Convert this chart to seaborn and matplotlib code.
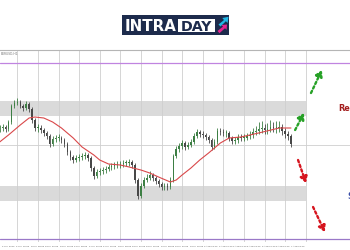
import matplotlib
matplotlib.use("Agg")
import matplotlib.pyplot as plt
import matplotlib.transforms as mtransforms
from matplotlib.patches import Rectangle, Polygon
import numpy as np
import pandas as pd
import seaborn as sns

# ---------------- data ----------------
closes = [1.1822, 1.1823, 1.1821, 1.1828, 1.1844, 1.1847, 1.1848, 1.1844, 1.1842, 1.1846,
          1.1841, 1.1830, 1.1822, 1.1822, 1.1820, 1.1817, 1.1814, 1.1806, 1.1811, 1.1812,
          1.1812, 1.1810, 1.1806, 1.1798, 1.1793, 1.1790, 1.1792, 1.1793, 1.1794, 1.1795,
          1.1792, 1.1782, 1.1774, 1.1778, 1.1779, 1.1780, 1.1781, 1.1783, 1.1784, 1.1785,
          1.1785, 1.1786, 1.1787, 1.1787, 1.1788, 1.1785, 1.1770, 1.1754, 1.1764, 1.1770,
          1.1772, 1.1775, 1.1772, 1.1769, 1.1766, 1.1763, 1.1764, 1.1763, 1.1770, 1.1794,
          1.1801, 1.1804, 1.1807, 1.1803, 1.1805, 1.1808, 1.1814, 1.1818, 1.1816, 1.1815,
          1.1813, 1.1810, 1.1803, 1.1808, 1.1819, 1.1818, 1.1817, 1.1817, 1.1812, 1.1809,
          1.1810, 1.1813, 1.1812, 1.1812, 1.1814, 1.1815, 1.1818, 1.1819, 1.1821, 1.1822,
          1.1820, 1.1821, 1.1823, 1.1822, 1.1822, 1.1823, 1.1819, 1.1816, 1.1814, 1.1806]
highs = [1.1825, 1.1826, 1.1825, 1.1830, 1.1846, 1.1850, 1.1852, 1.1850, 1.1846, 1.1849,
         1.1848, 1.1843, 1.1832, 1.1826, 1.1825, 1.1822, 1.1819, 1.1816, 1.1814, 1.1815,
         1.1816, 1.1814, 1.1812, 1.1808, 1.1800, 1.1795, 1.1795, 1.1796, 1.1797, 1.1798,
         1.1797, 1.1794, 1.1784, 1.1781, 1.1782, 1.1783, 1.1784, 1.1786, 1.1787, 1.1788,
         1.1789, 1.1789, 1.1790, 1.1790, 1.1791, 1.1790, 1.1787, 1.1772, 1.1767, 1.1773,
         1.1776, 1.1779, 1.1777, 1.1774, 1.1771, 1.1768, 1.1767, 1.1767, 1.1773, 1.1796,
         1.1804, 1.1807, 1.1810, 1.1809, 1.1808, 1.1811, 1.1817, 1.1821, 1.1820, 1.1819,
         1.1817, 1.1815, 1.1812, 1.1811, 1.1822, 1.1822, 1.1821, 1.1820, 1.1819, 1.1814,
         1.1813, 1.1816, 1.1816, 1.1816, 1.1817, 1.1819, 1.1822, 1.1824, 1.1828, 1.1829,
         1.1826, 1.1827, 1.1830, 1.1828, 1.1829, 1.1829, 1.1826, 1.1822, 1.1819, 1.1816]
lows = [1.1818, 1.1819, 1.1818, 1.1819, 1.1826, 1.1842, 1.1845, 1.1842, 1.1839, 1.1840,
        1.1838, 1.1827, 1.1819, 1.1818, 1.1817, 1.1814, 1.1811, 1.1803, 1.1804, 1.1808,
        1.1809, 1.1807, 1.1803, 1.1795, 1.1790, 1.1787, 1.1788, 1.1789, 1.1790, 1.1791,
        1.1789, 1.1779, 1.1771, 1.1772, 1.1775, 1.1776, 1.1777, 1.1779, 1.1780, 1.1781,
        1.1782, 1.1782, 1.1783, 1.1784, 1.1784, 1.1782, 1.1767, 1.1751, 1.1752, 1.1762,
        1.1768, 1.1770, 1.1769, 1.1766, 1.1763, 1.1760, 1.1760, 1.1760, 1.1761, 1.1768,
        1.1792, 1.1798, 1.1801, 1.1800, 1.1801, 1.1803, 1.1806, 1.1812, 1.1813, 1.1812,
        1.1810, 1.1807, 1.1800, 1.1801, 1.1806, 1.1815, 1.1814, 1.1813, 1.1809, 1.1806,
        1.1806, 1.1807, 1.1809, 1.1809, 1.1810, 1.1811, 1.1812, 1.1815, 1.1816, 1.1817,
        1.1816, 1.1816, 1.1818, 1.1818, 1.1817, 1.1818, 1.1815, 1.1812, 1.1810, 1.1803]
first_open = 1.1820

ma_bars = [0, 3, 7, 10, 12, 15, 18, 21, 25, 28, 32, 34, 37, 41, 44, 48, 51, 54, 58, 60,
           62, 65, 68, 71, 75, 78, 82, 88, 95, 99]
ma_vals = [1.1808, 1.1815, 1.1825, 1.1832, 1.1833, 1.1832, 1.1828, 1.1822, 1.1812, 1.1803,
           1.1795, 1.1790, 1.1786, 1.1785, 1.1783, 1.1780, 1.1777, 1.1773, 1.1768, 1.1770,
           1.1775, 1.1782, 1.1790, 1.1797, 1.1807, 1.1812, 1.1813, 1.1817, 1.1822, 1.1822]

resistance_zone = (1.1834, 1.1849)
support_zone = (1.1749, 1.1764)
upper_line = 1.1887
lower_line = 1.1711
grid_price = 1.1805

# arrows: (bar start, price start, bar end, price end)
green_arrows = [(100.4, 1.1820, 103.4, 1.1837), (105.8, 1.1857, 109.5, 1.1880)]
red_arrows = [(101.4, 1.1790, 104.1, 1.1767), (106.5, 1.1743, 110.5, 1.1718)]

time_labels = ["21 Jul 2020", "21 Jul 16:00", "22 Jul 08:00", "23 Jul 00:00", "23 Jul 16:00",
               "24 Jul 08:00", "27 Jul 00:00", "27 Jul 16:00", "28 Jul 08:00", "29 Jul 00:00",
               "29 Jul 16:00", "30 Jul 08:00", "31 Jul 00:00", "31 Jul 16:00", "3 Aug 08:00",
               "4 Aug 00:00", "4 Aug 16:00", "5 Aug 08:00", "6 Aug 00:00", "6 Aug 16:00",
               "7 Aug 08:00"]

# ---------------- build table ----------------
opens = [first_open] + closes[:-1]
df = pd.DataFrame({"bar": np.arange(len(closes)), "open": opens, "high": highs,
                   "low": lows, "close": closes})
df["bull"] = df["close"] >= df["open"]
ma_df = pd.DataFrame({"bar": ma_bars, "ma": ma_vals})

sns.set_theme(style="white")
plt.rcParams['font.family'] = ['DejaVu Sans']

fig = plt.figure(figsize=(3.5, 2.5), dpi=100)
fig.patch.set_facecolor("white")
ax = fig.add_axes([0, 8 / 250, 1, 192 / 250])
ax.set_facecolor("white")

x_left, x_right = 0.12, 119.05
ax.set_xlim(x_left, x_right)
ax.set_ylim(1.1708, 1.1900)

grid_col = "#cfcfcf"
for gx in range(6, 105, 7):
    ax.axvline(gx, color=grid_col, lw=0.6, zorder=1)
ax.axhline(grid_price, color=grid_col, lw=0.6, zorder=1)

band_end = (104 - x_left) / (x_right - x_left)
ax.axhspan(*resistance_zone, xmin=0, xmax=band_end, color="#dadada", lw=0, zorder=0.5)
ax.axhspan(*support_zone, xmin=0, xmax=band_end, color="#dadada", lw=0, zorder=0.5)

ax.axhline(upper_line, color="#c084e0", lw=0.9, zorder=2)
ax.axhline(lower_line, color="#9a78c8", lw=0.9, zorder=2)

# candles
bull_c, bear_c = "#3d7f44", "#484848"
cols = np.where(df["bull"], bull_c, bear_c)
ax.vlines(df["bar"], df["low"], df["high"], colors=cols, lw=0.6, zorder=3)
ax.bar(df["bar"], (df["close"] - df["open"]).abs().clip(lower=0.00008),
       bottom=df[["open", "close"]].min(axis=1), width=0.5, color=cols, lw=0, zorder=3)

# moving average
sns.lineplot(data=ma_df, x="bar", y="ma", ax=ax, color="#d9484a", lw=0.8, zorder=4)

# arrows
for (x0, y0, x1, y1), col in [(a, "#27a127") for a in green_arrows] + [(a, "#d6141e") for a in red_arrows]:
    ax.annotate("", xy=(x1, y1), xytext=(x0, y0),
                arrowprops=dict(arrowstyle="-|>,head_width=0.18,head_length=0.3",
                                color=col, lw=1.7, linestyle=(0, (1, 1.1)),
                                shrinkA=0, shrinkB=0), zorder=5)

ax.text(115.0, 1.1842, "Resistance", color="#a31d1d", fontsize=5.9, fontweight="bold",
        ha="left", va="center", clip_on=False)
ax.text(118.2, 1.1754, "Support", color="#3b4fa8", fontsize=5.9, fontweight="bold",
        ha="left", va="center", clip_on=False)

# time labels
trans = mtransforms.blended_transform_factory(ax.transData, ax.transAxes)
for k, lab in enumerate(time_labels):
    xpx = 8.5 + 14.45 * k
    ax.text((xpx + 0.36) / 2.943, -0.024, lab, transform=trans, fontsize=1.6,
            color="#555555", ha="center", va="center", clip_on=False)
ax.text(0.003, 0.99, "EURUSD,H1", transform=ax.transAxes, fontsize=2.2,
        color="#777777", ha="left", va="top")

ax.set_xlabel("")
ax.set_ylabel("")
ax.set_xticks([])
ax.set_yticks([])
for s in ["left", "right", "bottom"]:
    ax.spines[s].set_visible(False)
ax.spines["top"].set_color("#b5b5b5")
ax.spines["top"].set_linewidth(0.8)

# ---------------- logo ----------------
lg = fig.add_axes([0, 0, 1, 1], zorder=10)
lg.set_xlim(0, 350)
lg.set_ylim(250, 0)
lg.axis("off")
lg.patch.set_alpha(0)
navy = "#1d2b4c"
lg.add_patch(Rectangle((122, 14.8), 107, 19.7, color=navy, lw=0))
lg.add_patch(Rectangle((178, 19), 37, 12.6, color="white", lw=0))
lg.text(151, 31, "INTRA", color="white", fontsize=10.8, fontweight="bold",
        ha="center", va="baseline")
lg.text(196.5, 30.6, "DAY", color=navy, fontsize=10.2, fontweight="bold",
        ha="center", va="baseline")
lg.add_patch(Polygon([(218.5, 24.5), (224, 20), (222.3, 18), (228.5, 16.8), (227.6, 23),
                      (225.9, 21.2), (220.5, 26.5)], closed=True, color="#22b8e6", lw=0))
lg.add_patch(Polygon([(217.5, 31), (223, 26.6), (221.5, 25), (227, 24.5), (226.6, 29.8),
                      (225, 28.2), (219.5, 33.2)], closed=True, color="#e4238f", lw=0))

fig.savefig("out.png", dpi=100, facecolor="white")
